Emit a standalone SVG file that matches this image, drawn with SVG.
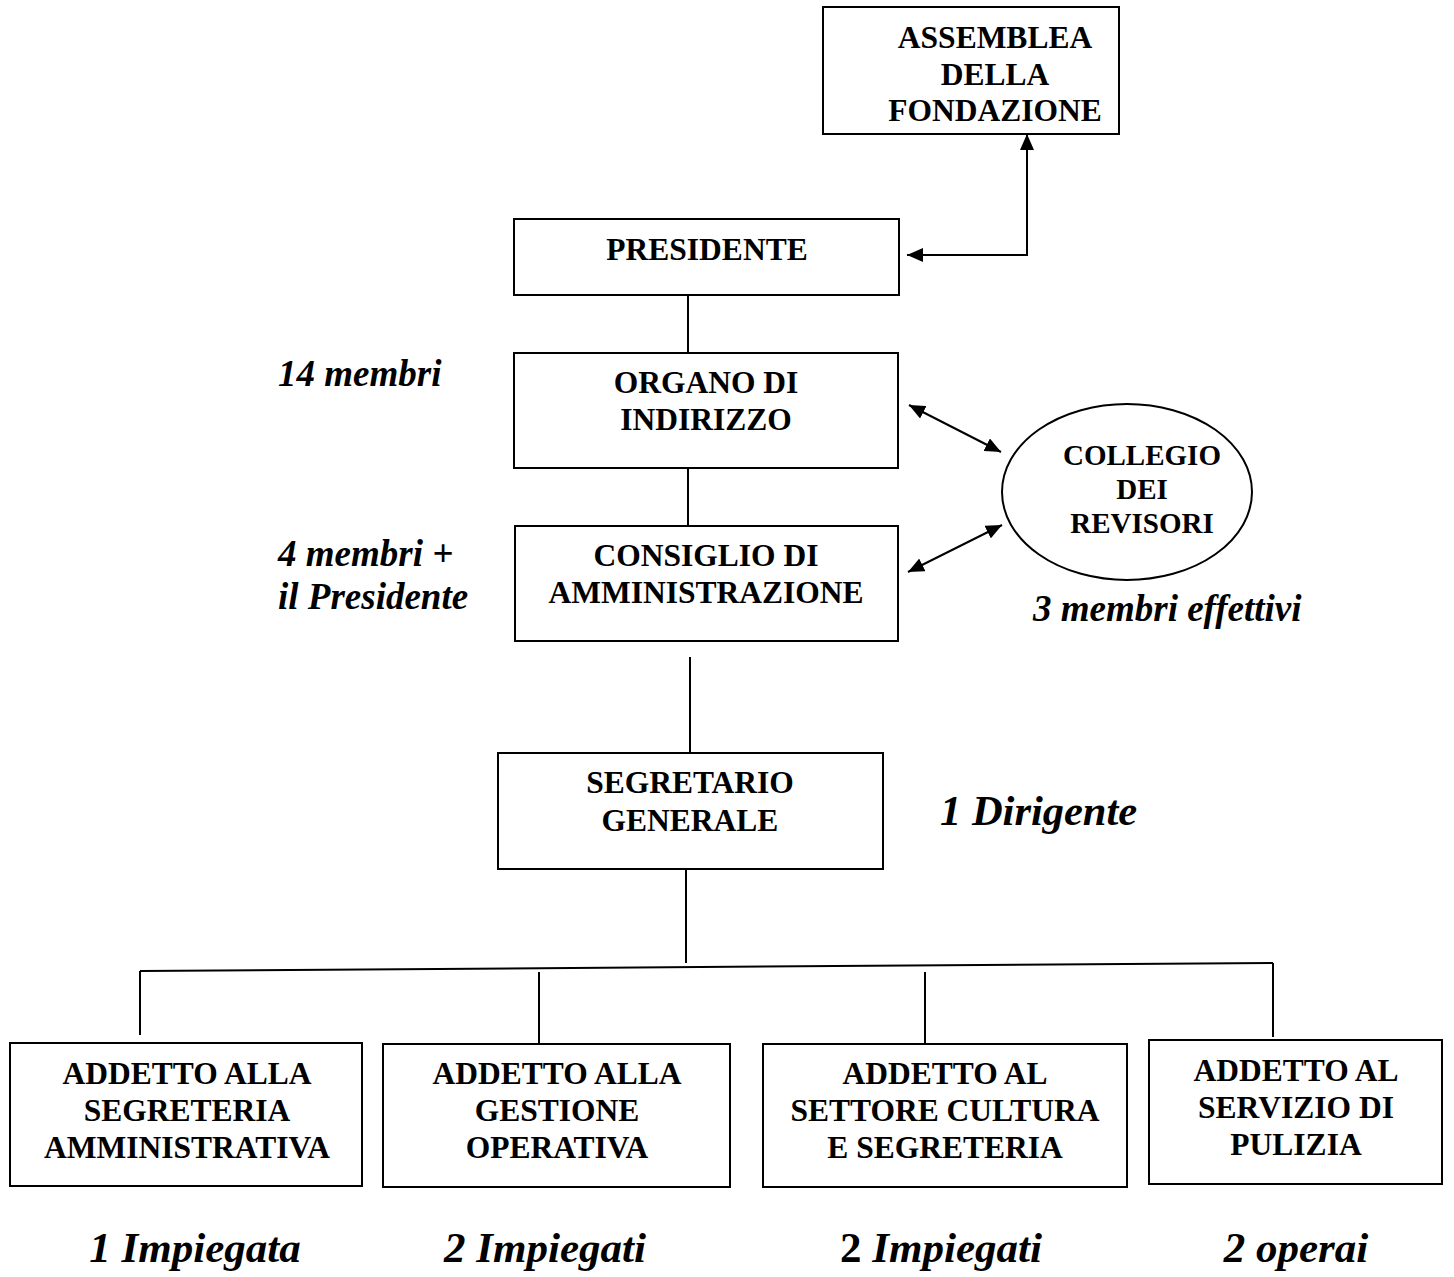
<svg xmlns="http://www.w3.org/2000/svg" width="1454" height="1277" viewBox="0 0 1454 1277">
<style>
.box{fill:#fff;stroke:#000;stroke-width:2}
.t{font-family:"Liberation Serif","Times New Roman",serif;font-weight:bold;font-size:31.5px;text-anchor:middle;fill:#000}
.c{font-size:29px}
.n{font-family:"Liberation Serif","Times New Roman",serif;font-weight:bold;font-style:italic;font-size:37px;fill:#000}
.d{font-size:42.5px}
.b{font-size:43px;text-anchor:middle}
.up{font-style:normal}
.ln{stroke:#000;stroke-width:2;fill:none}
</style>
<defs>
<marker id="ah" viewBox="0 0 16 14" refX="16" refY="7" markerWidth="16" markerHeight="14" markerUnits="userSpaceOnUse" orient="auto-start-reverse">
<path d="M0,0 L16,7 L0,14 z" fill="#000"/>
</marker>
</defs>
<rect width="1454" height="1277" fill="#fff"/>
<g id="connectors">
<path class="ln" d="M1027,134 L1027,255 L907,255" marker-start="url(#ah)" marker-end="url(#ah)"/>
<line class="ln" x1="688" y1="295" x2="688" y2="353"/>
<line class="ln" x1="688" y1="468" x2="688" y2="526"/>
<line class="ln" x1="909" y1="405" x2="1001" y2="452" marker-start="url(#ah)" marker-end="url(#ah)"/>
<line class="ln" x1="908" y1="572" x2="1002" y2="525" marker-start="url(#ah)" marker-end="url(#ah)"/>
<line class="ln" x1="690" y1="657" x2="690" y2="753"/>
<line class="ln" x1="686" y1="869" x2="686" y2="963"/>
<line class="ln" x1="140" y1="971" x2="1273" y2="963" stroke-width="2.5"/>
<line class="ln" x1="140" y1="971" x2="140" y2="1035"/>
<line class="ln" x1="539" y1="972" x2="539" y2="1043"/>
<line class="ln" x1="925" y1="972" x2="925" y2="1043"/>
<line class="ln" x1="1273" y1="963" x2="1273" y2="1037"/>
</g>
<g id="assemblea">
<rect class="box" x="823" y="7" width="296" height="127"/>
<text class="t" x="995" y="48">ASSEMBLEA</text>
<text class="t" x="995" y="85">DELLA</text>
<text class="t" x="995" y="121">FONDAZIONE</text>
</g>
<g id="presidente">
<rect class="box" x="514" y="219" width="385" height="76"/>
<text class="t" x="707" y="260">PRESIDENTE</text>
</g>
<g id="organo">
<rect class="box" x="514" y="353" width="384" height="115"/>
<text class="t" x="706" y="393">ORGANO DI</text>
<text class="t" x="706" y="430">INDIRIZZO</text>
</g>
<g id="consiglio">
<rect class="box" x="515" y="526" width="383" height="115"/>
<text class="t" x="706" y="566">CONSIGLIO DI</text>
<text class="t" x="706" y="603">AMMINISTRAZIONE</text>
</g>
<g id="collegio">
<ellipse class="box" cx="1127" cy="492" rx="125" ry="88"/>
<text class="t c" x="1142" y="465">COLLEGIO</text>
<text class="t c" x="1142" y="499">DEI</text>
<text class="t c" x="1142" y="533">REVISORI</text>
</g>
<g id="segretario">
<rect class="box" x="498" y="753" width="385" height="116"/>
<text class="t" x="690" y="793">SEGRETARIO</text>
<text class="t" x="690" y="831">GENERALE</text>
</g>
<g id="addetto1">
<rect class="box" x="10" y="1043" width="352" height="143"/>
<text class="t" x="187" y="1084">ADDETTO ALLA</text>
<text class="t" x="187" y="1121">SEGRETERIA</text>
<text class="t" x="187" y="1158">AMMINISTRATIVA</text>
</g>
<g id="addetto2">
<rect class="box" x="383" y="1044" width="347" height="143"/>
<text class="t" x="557" y="1084">ADDETTO ALLA</text>
<text class="t" x="557" y="1121">GESTIONE</text>
<text class="t" x="557" y="1158">OPERATIVA</text>
</g>
<g id="addetto3">
<rect class="box" x="763" y="1044" width="364" height="143"/>
<text class="t" x="945" y="1084">ADDETTO AL</text>
<text class="t" x="945" y="1121">SETTORE CULTURA</text>
<text class="t" x="945" y="1158">E SEGRETERIA</text>
</g>
<g id="addetto4">
<rect class="box" x="1149" y="1040" width="293" height="144"/>
<text class="t" x="1296" y="1081">ADDETTO AL</text>
<text class="t" x="1296" y="1118">SERVIZIO DI</text>
<text class="t" x="1296" y="1155">PULIZIA</text>
</g>
<g id="labels">
<text class="n" x="278" y="386">14 membri</text>
<text class="n" x="278" y="566">4 membri +</text>
<text class="n" x="278" y="609">il Presidente</text>
<text class="n" x="1033" y="621">3 membri effettivi</text>
<text class="n d" x="940" y="825">1 Dirigente</text>
<text class="n b" x="195" y="1262">1 Impiegata</text>
<text class="n b" x="545" y="1262">2 Impiegati</text>
<text class="n b" x="941" y="1262"><tspan class="up">2</tspan> Impiegati</text>
<text class="n b" x="1296" y="1262">2 operai</text>
</g>
</svg>
